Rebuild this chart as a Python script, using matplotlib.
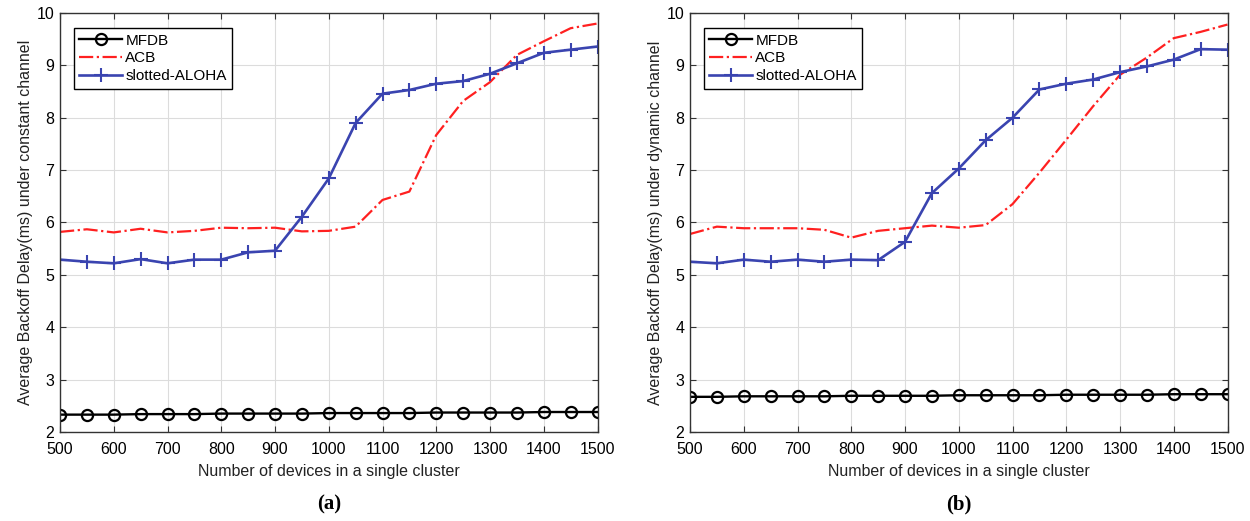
import matplotlib
matplotlib.use("Agg")
import matplotlib.pyplot as plt
import numpy as np

plt.rcParams['font.family'] = ['Liberation Sans', 'DejaVu Sans']

devices = [500, 550, 600, 650, 700, 750, 800, 850, 900, 950, 1000,
           1050, 1100, 1150, 1200, 1250, 1300, 1350, 1400, 1450, 1500]

# (a) constant channel
mfdb_a = [2.33, 2.33, 2.33, 2.34, 2.34, 2.34, 2.35, 2.35, 2.35, 2.35, 2.36,
          2.36, 2.36, 2.36, 2.37, 2.37, 2.37, 2.37, 2.38, 2.38, 2.38]
acb_a = [5.82, 5.87, 5.81, 5.88, 5.81, 5.84, 5.90, 5.89, 5.90, 5.83, 5.84,
         5.92, 6.43, 6.59, 7.67, 8.32, 8.68, 9.20, 9.46, 9.71, 9.80]
aloha_a = [5.29, 5.25, 5.22, 5.30, 5.22, 5.29, 5.29, 5.43, 5.46, 6.11, 6.84,
           7.90, 8.46, 8.53, 8.65, 8.70, 8.84, 9.04, 9.24, 9.30, 9.36]

# (b) dynamic channel
mfdb_b = [2.67, 2.67, 2.68, 2.68, 2.68, 2.68, 2.69, 2.69, 2.69, 2.69, 2.70,
          2.70, 2.70, 2.70, 2.71, 2.71, 2.71, 2.71, 2.72, 2.72, 2.72]
acb_b = [5.78, 5.92, 5.89, 5.89, 5.89, 5.86, 5.71, 5.84, 5.89, 5.94, 5.90,
         5.95, 6.35, 6.95, 7.58, 8.22, 8.82, 9.15, 9.52, 9.64, 9.78]
aloha_b = [5.25, 5.22, 5.29, 5.25, 5.29, 5.25, 5.29, 5.28, 5.63, 6.56, 7.03,
           7.57, 8.00, 8.54, 8.65, 8.73, 8.87, 8.98, 9.11, 9.31, 9.30]

xticks = [500, 600, 700, 800, 900, 1000, 1100, 1200, 1300, 1400, 1500]
yticks = [2, 3, 4, 5, 6, 7, 8, 9, 10]
ylabels = ["Average Backoff Delay(ms) under constant channel",
           "Average Backoff Delay(ms) under dynamic channel"]
panel_labels = ["(a)", "(b)"]
series_names = ["MFDB", "ACB", "slotted-ALOHA"]

fig = plt.figure(figsize=(12.5, 5.21), dpi=100)
positions = [[0.048, 0.171, 0.430, 0.804], [0.552, 0.171, 0.430, 0.804]]
data = [(mfdb_a, acb_a, aloha_a), (mfdb_b, acb_b, aloha_b)]

for i, pos in enumerate(positions):
    ax = fig.add_axes(pos)
    mf, acb, al = data[i]
    ax.plot(devices, mf, color='black', lw=1.7, marker='o', ms=8,
            mfc='none', mew=1.6, label=series_names[0])
    ax.plot(devices, acb, color='#ff2020', lw=1.6, ls='-.',
            label=series_names[1])
    ax.plot(devices, al, color='#3a44b0', lw=1.9, marker='+', ms=10,
            mew=1.5, label=series_names[2])
    ax.set_xlim(500, 1500)
    ax.set_ylim(2, 10)
    ax.set_xticks(xticks)
    ax.set_yticks(yticks)
    ax.grid(True, color='#dcdcdc', lw=0.8)
    ax.set_axisbelow(True)
    ax.tick_params(direction='in', top=True, right=True, labelsize=11.5,
                   length=4, color='#333333')
    ax.tick_params(axis='x', pad=7)
    ax.tick_params(axis='y', pad=4)
    for s in ax.spines.values():
        s.set_color('#333333')
        s.set_linewidth(1.0)
    ax.set_xlabel("Number of devices in a single cluster", fontsize=11.5,
                  color='#222222', labelpad=5)
    ax.set_ylabel(ylabels[i], fontsize=11.5, color='#222222', labelpad=3)
    leg = ax.legend(loc='upper left', fontsize=11, fancybox=False,
                    edgecolor='black', framealpha=1, handlelength=2.8,
                    borderpad=0.35, labelspacing=0.25, handletextpad=0.2,
                    bbox_to_anchor=(0.012, 0.982))
    leg.get_frame().set_linewidth(1.0)
    ax.text(0.5, -0.174, panel_labels[i], transform=ax.transAxes,
            ha='center', va='center', fontsize=15, fontweight='bold',
            family=['Liberation Serif', 'DejaVu Serif'])

fig.savefig("out.png", dpi=100)
